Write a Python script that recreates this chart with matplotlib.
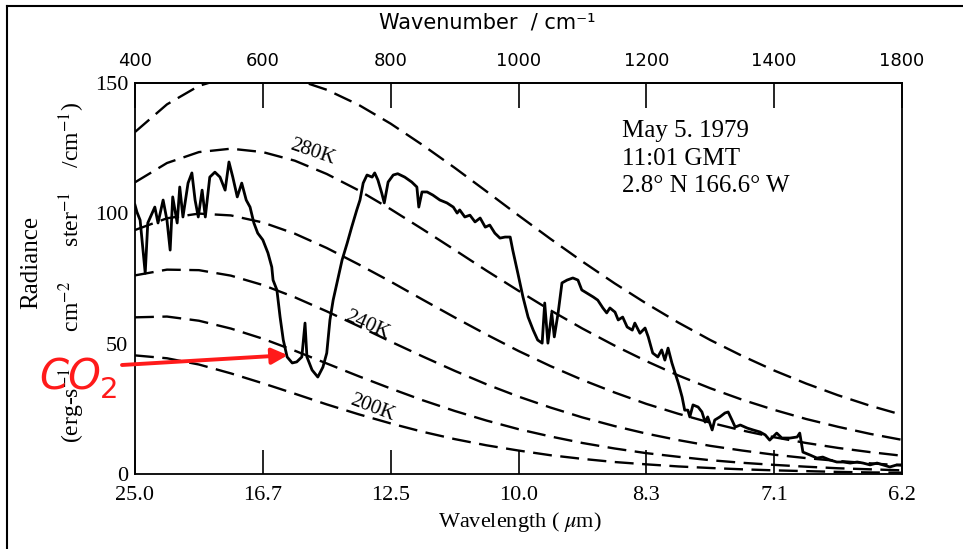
import matplotlib
matplotlib.use("Agg")
import matplotlib.pyplot as plt
from matplotlib.lines import Line2D

plt.rcParams['mathtext.fontset'] = 'stix'

# ---------------- data ----------------
# Measured spectrum (wavenumber cm-1, radiance erg s-1 cm-2 sr-1 / cm-1)
spec_wn = [400, 403, 408, 416, 420, 431, 436, 444, 450, 455, 459, 466, 470, 475, 483, 489,
           494, 499, 505, 510, 517, 525, 533, 541, 547, 553, 560, 567, 574, 580, 586, 592,
           600, 608, 614, 616, 622, 627, 632, 638, 646, 653, 661, 666, 669, 677, 686, 694,
           700, 705, 710, 716, 724, 732, 739, 747, 752, 757, 763, 771, 775, 780, 786, 790,
           796, 804, 811, 822, 833, 841, 844, 849, 857, 866, 877, 888, 898, 904, 908, 916,
           924, 932, 940, 948, 955, 963, 971, 979, 987, 991, 999, 1007, 1015, 1023, 1030, 1037,
           1041, 1046, 1052, 1056, 1062, 1068, 1076, 1085, 1093, 1099, 1107, 1117, 1124, 1132,
           1138, 1143, 1151, 1156, 1163, 1170, 1178, 1182, 1190, 1198, 1203, 1210, 1218, 1224,
           1229, 1234, 1240, 1245, 1250, 1256, 1260, 1265, 1268, 1273, 1281, 1287, 1292, 1296,
           1303, 1307, 1315, 1323, 1328, 1334, 1339, 1347, 1358, 1367, 1378, 1386, 1393, 1404,
           1412, 1425, 1436, 1440, 1445, 1456, 1467, 1476, 1487, 1498, 1508, 1519, 1530, 1539,
           1550, 1561, 1570, 1581, 1592, 1600]
spec_rad = [103.2, 100.5, 97.4, 77.0, 96.3, 102.4, 96.3, 105.1, 97.4, 85.9, 106.3, 96.3, 110.1, 98.6, 111.6, 115.5,
            105.1, 98.6, 108.9, 98.6, 113.9, 115.8, 113.9, 108.9, 119.7, 113.9, 106.3, 111.6, 105.1, 102.4, 96.3, 92.4,
            89.8, 84.8, 79.4, 74.4, 70.6, 60.2, 51.4, 44.9, 42.6, 43.0, 44.9, 57.9, 44.9, 39.9, 37.2, 41.0,
            46.4, 59.1, 66.7, 73.3, 82.1, 88.6, 94.7, 101.3, 105.1, 111.6, 114.7, 113.9, 115.5, 112.8, 107.8, 104.0,
            112.0, 114.7, 115.2, 113.9, 112.0, 110.1, 102.4, 108.2, 108.2, 107.0, 105.1, 104.0, 102.4, 100.1, 101.3, 98.6,
            99.3, 96.7, 98.2, 94.7, 95.5, 92.4, 90.5, 90.9, 90.9, 85.9, 77.0, 67.9, 60.2, 55.2, 51.4, 50.2,
            65.6, 50.2, 61.8, 52.6, 61.8, 73.3, 74.4, 75.2, 74.4, 70.6, 69.4, 67.9, 66.7, 63.7,
            61.8, 63.7, 62.1, 59.1, 60.2, 56.4, 55.2, 57.9, 54.0, 56.0, 52.6, 46.4, 44.9, 47.6,
            43.7, 48.3, 42.6, 38.7, 34.9, 29.5, 24.5, 24.5, 21.9, 26.5, 25.7, 23.8, 19.9, 21.9,
            16.9, 20.7, 21.9, 23.4, 23.8, 20.7, 18.0, 18.8, 17.6, 16.9, 16.1, 15.0, 13.0, 15.7,
            13.8, 13.8, 14.2, 15.7, 8.4, 7.3, 6.1, 6.5, 5.4, 4.6, 4.6, 4.2, 4.6, 4.2,
            3.5, 4.2, 3.5, 2.7, 3.5, 3.5]

# Blackbody reference curves
bb_wn = [400, 450, 500, 550, 600, 650, 700, 750, 800, 850, 900, 950, 1000,
         1050, 1100, 1150, 1200, 1250, 1300, 1350, 1400, 1450, 1500, 1550, 1600]
bb_300K = [131.2, 141.8, 148.9, 152.6, 153.4, 151.5, 147.4, 141.6, 134.4, 126.2, 117.5, 108.4, 99.2,
           90.2, 81.5, 73.2, 65.4, 58.1, 51.4, 45.3, 39.7, 34.7, 30.2, 26.2, 22.7]
bb_280K = [111.9, 119.3, 123.5, 124.8, 123.5, 120.2, 115.1, 108.8, 101.6, 93.9, 86.0, 78.0, 70.3,
           62.8, 55.8, 49.3, 43.3, 37.8, 32.9, 28.5, 24.6, 21.1, 18.1, 15.4, 13.1]
bb_260K = [93.6, 98.1, 99.9, 99.2, 96.5, 92.2, 86.7, 80.4, 73.8, 66.9, 60.1, 53.5, 47.2,
           41.4, 36.1, 31.3, 26.9, 23.1, 19.7, 16.7, 14.1, 11.9, 10.0, 8.4, 7.0]
bb_240K = [76.2, 78.4, 78.2, 76.1, 72.5, 67.8, 62.4, 56.7, 50.8, 45.1, 39.6, 34.4, 29.7,
           25.5, 21.7, 18.4, 15.5, 13.0, 10.8, 9.0, 7.4, 6.1, 5.0, 4.1, 3.3]
bb_220K = [60.1, 60.4, 58.8, 55.8, 51.9, 47.3, 42.4, 37.5, 32.8, 28.3, 24.2, 20.5, 17.2,
           14.4, 11.9, 9.8, 8.0, 6.6, 5.3, 4.3, 3.5, 2.8, 2.2, 1.8, 1.4]
bb_200K = [45.5, 44.4, 42.0, 38.6, 34.8, 30.8, 26.7, 22.9, 19.4, 16.2, 13.4, 11.0, 9.0,
           7.2, 5.8, 4.6, 3.7, 2.9, 2.3, 1.8, 1.4, 1.1, 0.8, 0.6, 0.5]
bb_curves = [bb_300K, bb_280K, bb_260K, bb_240K, bb_220K, bb_200K]

# Curve labels: text, wavenumber, radiance, rotation
temp_labels = ["280K", "240K", "200K"]
temp_label_wn = [677, 763, 772]
temp_label_rad = [123.5, 57.2, 25.3]
temp_label_rot = [-19, -24, -21]

# Axes ticks
tick_wn = [400, 600, 800, 1000, 1200, 1400, 1600]
wavelength_labels = ["25.0", "16.7", "12.5", "10.0", "8.3", "7.1", "6.2"]
top_labels = ["400", "600", "800", "1000", "1200", "1400", "1800"]
y_ticks = [0, 50, 100, 150]

info_lines = ["May 5. 1979", "11:01 GMT", "2.8\u00b0 N 166.6\u00b0 W"]

co2_target = (639, 45.6)

# ---------------- figure ----------------
W, H = 963, 549
fig = plt.figure(figsize=(W / 100, H / 100), dpi=100)
fig.patch.set_facecolor('white')
ax = fig.add_axes([135 / W, 1 - 474 / H, (902 - 135) / W, (474 - 83) / H])
ax.set_xlim(400, 1600)
ax.set_ylim(0, 150)

serif = 'Liberation Serif'
sans = 'DejaVu Sans'

for vals in bb_curves:
    ax.plot(bb_wn, vals, color='black', lw=1.7, dashes=(8, 3.6), solid_capstyle='butt')
ax.plot(spec_wn, spec_rad, color='black', lw=2.0, solid_joinstyle='round')

for t, x, y, r in zip(temp_labels, temp_label_wn, temp_label_rad, temp_label_rot):
    ax.text(x, y, t, rotation=r, ha='center', va='center', fontsize=15,
            fontfamily=serif, rotation_mode='anchor')

for sp in ax.spines.values():
    sp.set_linewidth(1.3)

ax.set_xticks(tick_wn)
ax.set_xticklabels(wavelength_labels, fontfamily=serif, fontsize=16)
ax.tick_params(axis='x', direction='in', length=17, width=1.2, pad=9)
ax.set_yticks(y_ticks)
ax.set_yticklabels([str(v) for v in y_ticks], fontfamily=serif, fontsize=16)
ax.tick_params(axis='y', direction='in', length=0, pad=5)

sec = ax.secondary_xaxis('top')
sec.set_xticks(tick_wn)
sec.set_xticklabels(top_labels, fontfamily=sans, fontsize=13)
sec.tick_params(direction='in', length=18, width=1.2, pad=9)
sec.spines['top'].set_linewidth(1.3)

# text block
info_y = [137, 165, 192]
for line, yy in zip(info_lines, info_y):
    fig.text(622 / W, 1 - yy / H, line, fontfamily=serif, fontsize=18,
             ha='left', va='baseline')

# axis labels
fig.text(487 / W, 1 - 22 / H, "Wavenumber  / cm\u207b\u00b9", fontfamily=sans,
         fontsize=15, ha='center', va='center')
fig.text(520 / W, 1 - 522 / H, "Wavelength ( $\\mu$m)", fontfamily=serif,
         fontsize=16, ha='center', va='center')
fig.text(31 / W, 1 - 262 / H, "Radiance", fontfamily=serif, fontsize=18,
         rotation=90, ha='center', va='center')
fig.text(72 / W, 1 - 272 / H,
         "(erg-s$^{-1}$      cm$^{-2}$      ster$^{-1}$    /cm$^{-1}$)",
         fontfamily=serif, fontsize=17, rotation=90, ha='center', va='center')

# CO2 annotation
red = '#ff1a1a'
fig.text(70 / W, 1 - 378 / H, "CO", color=red, fontsize=30,
         fontfamily=sans, style='italic', ha='center', va='center')
fig.text(109 / W, 1 - 390 / H, "2", color=red, fontsize=21,
         fontfamily=sans, ha='center', va='center')
ax.annotate('', xy=co2_target, xycoords='data',
            xytext=(122 / W, 1 - 365 / H), textcoords='figure fraction',
            arrowprops=dict(arrowstyle='-|>', color=red, lw=2.8,
                            mutation_scale=24, shrinkA=0, shrinkB=0),
            annotation_clip=False)

# outer frame
fig.add_artist(Line2D([7 / W, 1], [1 - 6 / H, 1 - 6 / H], transform=fig.transFigure,
                      color='black', lw=1.5))
fig.add_artist(Line2D([7 / W, 7 / W], [0, 1 - 6 / H], transform=fig.transFigure,
                      color='black', lw=1.5))

fig.savefig('out.png', dpi=100)
